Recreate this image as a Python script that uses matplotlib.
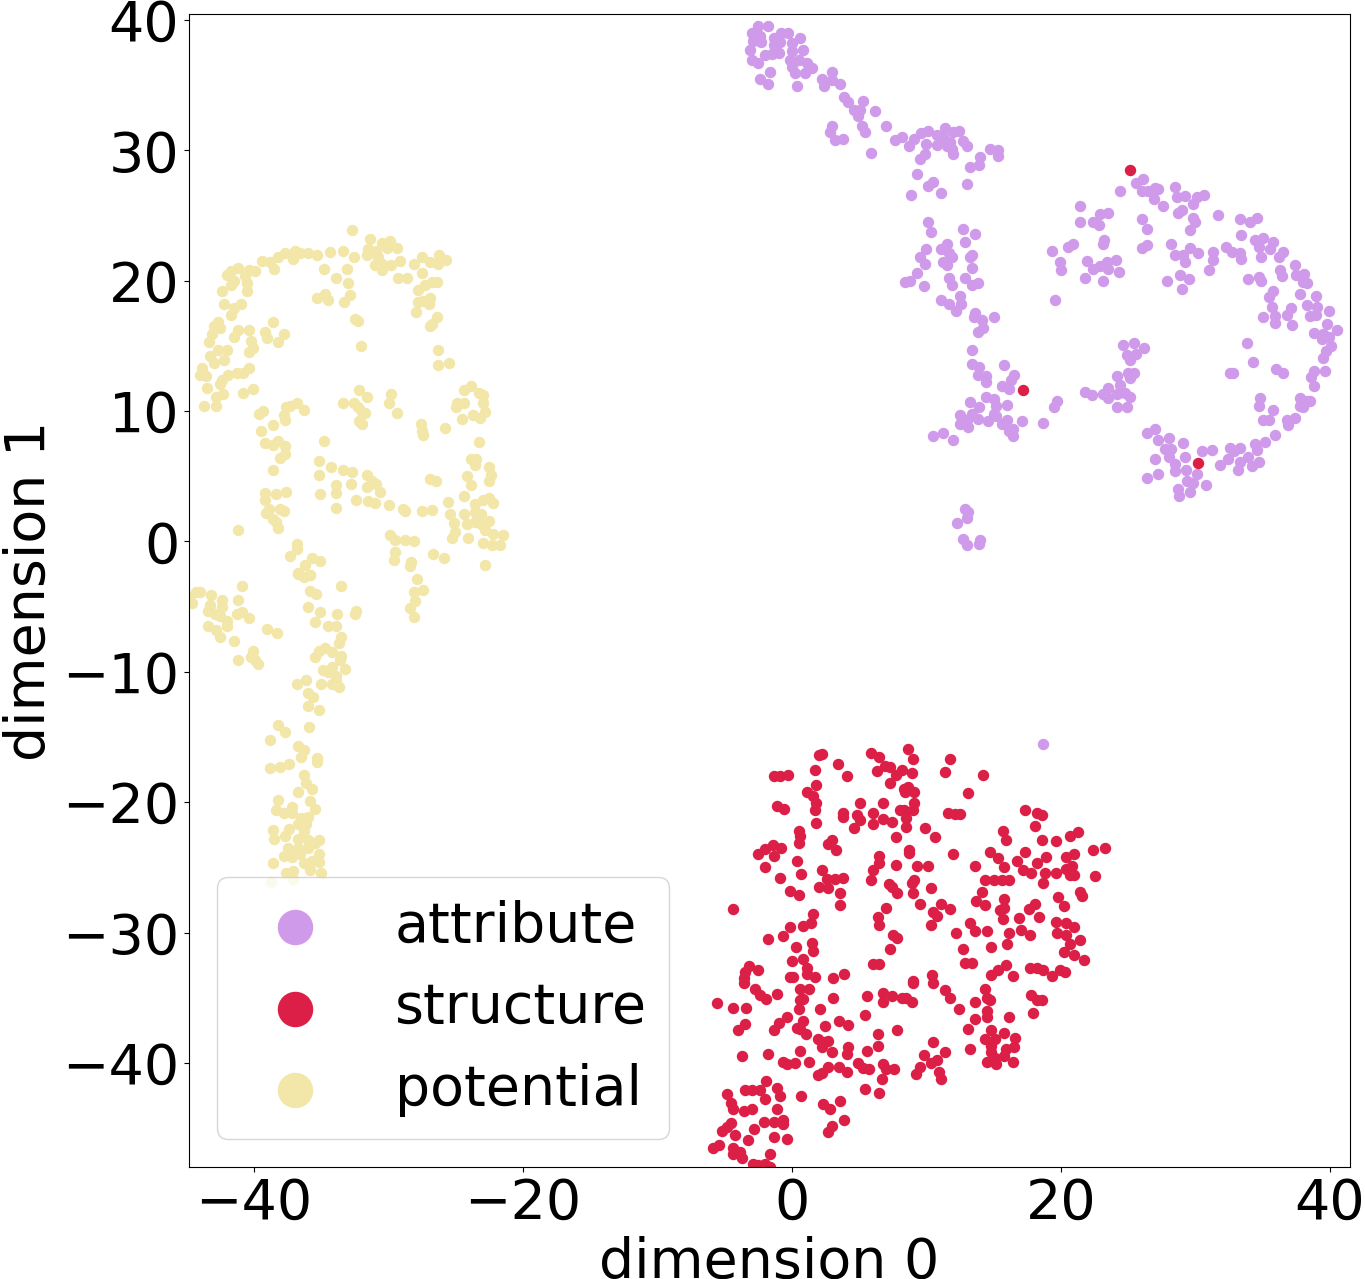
import numpy as np
import matplotlib
matplotlib.use('Agg')
import matplotlib.pyplot as plt

# t-SNE embedding points (dimension 0, dimension 1)
attribute_pts = [
    (-2.5, 39.5), (-1.8, 39.5), (-3.0, 39.0), (-2.4, 38.8), (-2.9, 38.4), (-2.3, 38.3), (-1.3, 38.6),
    (-0.8, 39.0), (-0.3, 39.0), (-0.9, 38.3), (-1.3, 38.1), (0.0, 38.2), (0.6, 38.6), (-3.1, 37.7),
    (-2.0, 37.3), (-1.5, 37.4), (-1.0, 37.5), (-3.0, 36.9), (-2.5, 36.7), (0.0, 37.6), (0.8, 37.7),
    (-0.15, 36.9), (0.5, 36.9), (1.1, 36.7), (1.5, 36.3), (0.0, 36.4), (0.2, 35.9), (1.0, 35.9),
    (-1.6, 36.0), (-2.4, 35.5), (-1.8, 35.1), (0.35, 34.9), (2.2, 35.5), (2.95, 36.0), (2.95, 35.4),
    (3.6, 35.1), (2.35, 34.9), (3.9, 34.1), (4.2, 33.7), (5.3, 33.8), (4.6, 33.1), (5.05, 33.1),
    (4.9, 32.6), (6.2, 33.0), (5.2, 31.9), (5.4, 31.4), (2.95, 31.9), (2.8, 31.4), (3.2, 30.8),
    (3.8, 30.9), (5.9, 29.8), (7.0, 31.85), (7.66, 30.8), (8.2, 31.0), (8.7, 30.3), (9.1, 30.9),
    (9.6, 31.3), (10.1, 31.5), (10.0, 30.5), (10.76, 31.2), (10.76, 30.4), (11.4, 31.7), (11.25, 31.0),
    (11.75, 30.65), (12.0, 31.4), (12.4, 31.5), (12.75, 30.7), (11.9, 30.1), (11.5, 30.3), (12.0, 29.75),
    (13.0, 30.3), (14.0, 29.5), (14.7, 30.1), (15.3, 30.0), (15.3, 29.6), (13.9, 28.9), (13.2, 28.7),
    (9.9, 29.7), (9.5, 29.3), (9.3, 28.2), (10.5, 27.6), (10.1, 27.25), (11.1, 26.7), (8.85, 26.6),
    (13.0, 27.45),
    (10.1, 24.5), (10.3, 23.7), (12.7, 24.0), (13.6, 23.6), (12.9, 23.0), (11.5, 22.8), (11.1, 22.4),
    (10.0, 22.4), (11.7, 22.1), (11.9, 21.8), (9.5, 21.8), (9.9, 21.3), (11.2, 21.4), (11.5, 21.2),
    (13.35, 21.95), (13.2, 21.8), (13.4, 21.0), (9.3, 20.6), (8.4, 19.9), (8.8, 20.0), (9.8, 19.6),
    (11.7, 20.2), (11.9, 19.7), (12.9, 20.2), (13.4, 19.65), (13.85, 19.8), (12.5, 18.8), (12.6, 18.2),
    (11.1, 18.5), (11.7, 18.2), (12.2, 17.7), (13.6, 17.5), (13.5, 17.2), (14.1, 17.0), (15.0, 17.2),
    (14.2, 16.4), (13.8, 16.1), (13.4, 14.7), (13.35, 13.6), (13.9, 13.4), (13.8, 12.8), (14.4, 12.7),
    (14.4, 12.2), (15.8, 13.5), (16.5, 12.8), (16.3, 12.4), (15.6, 11.9), (16.1, 11.7), (14.4, 11.1),
    (15.0, 10.9), (15.2, 10.4), (16.0, 10.5), (13.2, 10.7), (13.9, 10.3), (12.5, 9.7), (13.35, 9.8),
    (15.0, 9.8), (15.2, 9.6), (13.0, 9.3), (13.85, 9.4), (12.5, 9.0), (13.1, 8.8), (14.6, 9.2),
    (15.6, 9.0), (15.96, 9.3), (16.1, 8.5), (16.45, 8.65), (16.45, 8.1), (17.1, 9.2), (10.5, 8.1),
    (11.2, 8.3), (12.0, 7.75), (12.9, 2.5), (13.1, 2.25), (13.0, 1.8), (12.3, 1.4), (12.7, 0.2),
    (13.0, -0.3), (14.0, 0.1), (13.9, -0.2),
    (24.4, 26.9), (25.6, 27.5), (26.1, 27.8), (26.0, 26.9), (26.5, 26.9), (27.0, 27.1), (27.2, 27.0),
    (26.9, 26.3), (27.6, 25.7), (28.5, 27.2), (28.6, 26.4), (29.2, 26.5), (30.1, 26.4), (30.6, 26.6),
    (29.8, 25.9), (29.0, 25.45), (28.7, 25.2), (29.85, 24.8), (29.6, 23.9), (29.95, 24.5), (26.0, 24.7),
    (26.4, 24.0), (31.7, 25.0), (33.3, 24.7), (34.05, 24.5), (34.55, 24.8), (33.4, 23.5), (21.4, 25.7),
    (22.9, 25.1), (23.5, 25.2), (21.4, 24.5), (22.4, 24.5), (22.8, 24.3), (23.2, 23.1), (23.15, 22.85),
    (20.55, 22.6), (20.9, 22.85), (19.36, 22.26), (19.9, 21.4), (20.0, 20.8), (21.9, 21.5), (22.4, 20.9),
    (22.9, 21.1), (23.4, 21.4), (23.5, 20.9), (24.1, 21.6), (24.3, 20.7), (21.8, 20.2), (23.1, 20.0),
    (19.55, 18.55), (26.0, 22.5), (26.4, 22.7), (28.2, 22.8), (28.5, 22.0), (29.1, 21.95), (29.2, 21.4),
    (29.6, 22.5), (30.2, 22.15), (31.3, 22.2), (31.3, 21.6), (31.0, 20.85), (32.3, 22.6), (32.7, 22.2),
    (33.3, 22.1), (33.4, 21.7), (34.4, 23.1), (35.0, 23.3), (34.7, 22.6), (35.75, 22.97), (35.55, 22.4),
    (36.2, 21.8), (36.5, 22.2), (34.9, 21.8), (27.9, 20.0), (28.85, 20.4), (29.5, 20.1), (29.0, 19.4),
    (33.9, 20.1), (34.7, 20.3), (34.9, 20.0), (36.3, 20.8), (36.45, 20.34), (37.4, 21.2), (37.5, 20.4),
    (38.1, 20.5), (38.0, 19.9), (38.3, 19.8), (35.8, 19.2), (35.5, 18.75), (35.7, 18.0), (35.05, 17.2),
    (35.9, 17.3), (35.9, 16.75), (37.1, 17.9), (36.8, 17.35), (37.15, 16.6), (37.8, 18.96), (38.96, 18.8),
    (38.3, 18.1), (39.06, 18.0), (38.5, 17.3), (38.96, 17.4), (39.9, 17.7), (39.75, 16.65), (40.55, 16.2),
    (38.8, 16.0), (39.5, 15.9), (39.9, 15.7), (39.4, 15.5), (40.1, 15.0), (39.7, 14.6), (39.46, 14.1),
    (33.8, 15.25), (34.3, 13.8), (36.0, 13.25), (36.5, 12.9), (32.6, 12.9), (32.8, 12.9), (38.8, 13.1),
    (39.6, 13.1), (38.6, 12.6), (38.8, 11.9), (34.8, 11.0), (34.75, 10.4), (35.8, 10.05), (35.05, 9.3),
    (35.5, 9.3), (36.8, 9.3), (36.9, 8.9), (37.4, 9.5), (35.9, 8.2), (35.2, 7.6), (37.8, 11.0),
    (38.3, 10.8), (38.5, 10.8), (38.0, 10.3), (37.8, 10.4), (34.4, 7.45), (34.55, 7.0), (33.9, 6.5),
    (33.3, 7.2), (32.6, 7.2), (32.9, 6.9), (32.45, 6.3), (33.3, 6.1), (33.2, 5.5), (34.2, 5.8),
    (34.7, 6.1), (31.2, 7.0), (31.8, 5.9), (30.5, 6.9), (30.1, 5.2), (30.8, 4.3), (29.35, 4.6),
    (29.8, 4.5), (29.6, 3.8), (28.7, 4.05), (28.75, 3.5), (29.2, 6.5), (28.5, 5.95), (28.5, 5.4),
    (29.3, 5.45), (29.1, 7.55), (28.0, 7.9), (28.2, 7.1), (27.7, 7.1), (27.2, 7.75), (27.0, 8.6),
    (26.4, 8.3), (28.0, 6.5), (27.0, 6.3), (27.2, 5.2), (26.4, 4.9), (24.6, 15.1), (25.4, 15.25),
    (26.2, 14.8), (24.9, 14.3), (25.6, 14.4), (25.1, 13.9), (25.0, 12.9), (25.4, 12.9), (25.1, 12.5),
    (24.2, 12.7), (24.4, 12.0), (23.5, 11.8), (23.15, 11.3), (23.5, 11.0), (24.2, 11.3), (24.75, 11.4),
    (25.1, 11.1), (24.2, 10.3), (24.9, 10.3), (21.8, 11.5), (22.3, 11.2), (19.7, 10.8), (19.5, 10.3),
    (18.7, 9.1), (18.7, -15.5),
]

structure_pts = [
    (17.2, 11.6), (25.1, 28.5), (30.2, 6.0),
    (8.6, -15.9), (9.0, -16.7), (5.9, -16.2), (6.5, -16.5), (2.0, -16.4), (2.2, -16.3), (3.4, -17.1),
    (4.1, -18.0), (1.7, -17.5), (-1.3, -18.0), (-0.9, -18.0), (-0.3, -17.9), (6.3, -17.6), (6.9, -17.2),
    (7.3, -17.3), (8.2, -17.5), (7.7, -17.9), (8.9, -17.8), (7.3, -18.5), (8.3, -19.0), (8.6, -18.8),
    (9.1, -19.2), (8.4, -19.2), (11.75, -16.7), (11.4, -17.7), (14.2, -17.9), (13.1, -19.3), (1.1, -19.2),
    (1.8, -18.7), (1.6, -19.5), (1.8, -20.1), (1.7, -20.6), (-1.1, -20.3), (-0.6, -20.5), (5.05, -20.1),
    (6.8, -20.1), (3.8, -20.8), (3.8, -21.15), (4.8, -20.95), (5.05, -21.4), (6.0, -20.8), (6.8, -21.3),
    (7.4, -21.5), (6.0, -21.7), (4.6, -22.0), (8.0, -20.6), (8.3, -20.6), (9.0, -20.6), (9.1, -20.1),
    (8.5, -21.2), (8.5, -21.9), (1.8, -21.6), (0.5, -22.2), (0.6, -22.6), (0.5, -23.1), (2.7, -23.2),
    (2.95, -22.9), (3.3, -23.7), (-1.4, -23.3), (-0.8, -23.5), (-2.0, -23.6), (-2.5, -24.0), (-1.3, -24.1),
    (-2.0, -25.0), (-0.9, -25.8), (0.4, -24.5), (0.7, -25.5), (2.2, -25.2), (2.6, -25.9), (3.2, -25.9),
    (3.8, -25.8), (2.0, -26.5), (2.7, -26.6), (3.6, -27.0), (3.6, -27.85), (-0.15, -26.8), (0.5, -27.1),
    (9.9, -22.0), (10.6, -22.7), (11.6, -20.8), (12.1, -20.9), (12.5, -20.9), (17.3, -20.6), (18.2, -20.8),
    (18.6, -21.0), (18.1, -21.8), (18.6, -22.9), (19.6, -23.0), (15.7, -22.2), (15.9, -22.9), (20.7, -22.6),
    (21.3, -22.3), (22.4, -23.7), (23.3, -23.5), (22.5, -25.7), (14.7, -23.8), (15.3, -24.3), (16.7, -24.5),
    (17.3, -23.8), (18.9, -24.2), (18.2, -24.7), (15.8, -25.0), (17.2, -25.2), (17.8, -25.45), (18.8, -25.45),
    (19.6, -25.45), (20.4, -24.2), (21.0, -24.0), (20.8, -24.9), (20.4, -25.1), (20.7, -25.55), (21.0, -25.55),
    (18.7, -26.2), (14.35, -26.0), (15.0, -26.0), (15.6, -26.0), (16.1, -25.96), (14.1, -26.9), (13.7, -27.55),
    (14.35, -27.9), (15.8, -27.4), (15.5, -28.3), (15.8, -28.1), (15.7, -28.95), (16.9, -28.9), (17.6, -28.2),
    (18.1, -27.8), (18.4, -28.8), (19.8, -27.3), (20.2, -28.0), (21.4, -26.9), (21.6, -27.2), (19.6, -29.2),
    (20.4, -29.3), (21.0, -29.6), (19.7, -30.05), (20.4, -30.2), (21.4, -30.6), (20.7, -30.9), (20.2, -31.5),
    (21.0, -31.7), (21.7, -32.1), (16.1, -30.05), (17.0, -29.8), (17.7, -30.2), (16.0, -30.9), (14.8, -31.1),
    (14.5, -29.85), (13.2, -29.3), (13.6, -29.85), (12.2, -30.05), (12.7, -31.3), (12.9, -32.3), (13.4, -32.3),
    (17.7, -32.7), (18.2, -32.7), (18.7, -32.9), (19.3, -33.3), (19.9, -32.9), (20.3, -33.0), (14.8, -33.25),
    (15.3, -32.9), (15.9, -32.5), (16.4, -33.35), (13.6, -24.9), (12.0, -24.0), (8.7, -23.7), (8.7, -23.9),
    (9.3, -24.9), (10.1, -24.9), (7.7, -22.7), (6.5, -24.1), (6.5, -24.7), (6.0, -25.2), (5.9, -26.0),
    (7.2, -26.3), (7.4, -26.5), (7.8, -27.0), (7.7, -24.8), (8.9, -26.2), (9.1, -26.0), (9.0, -27.0),
    (10.3, -26.6), (9.5, -27.8), (11.1, -27.8), (10.5, -28.4), (10.8, -28.7), (11.75, -28.2), (10.3, -29.4),
    (7.0, -28.1), (6.4, -28.8), (6.5, -29.4), (7.5, -30.2), (7.8, -30.4), (7.3, -31.3), (6.05, -32.4),
    (6.5, -32.4), (-4.4, -28.2), (1.6, -28.6), (0.8, -29.5), (1.4, -29.3), (-0.15, -29.6), (-0.7, -30.3),
    (-1.8, -30.5), (0.3, -31.1), (1.5, -30.8), (1.6, -31.4), (0.0, -32.2), (0.8, -32.0), (1.1, -32.7),
    (1.1, -33.2), (-0.15, -33.4), (0.1, -33.4), (1.7, -33.4), (-2.5, -32.9), (-3.2, -32.6), (-3.5, -33.0),
    (-3.6, -33.5), (-3.6, -33.9), (-2.75, -34.3), (-2.4, -34.8), (-1.9, -35.1), (-1.1, -34.7), (0.6, -34.3),
    (1.3, -34.3), (0.6, -35.2), (0.8, -35.1), (0.5, -35.9), (2.1, -35.9), (3.07, -33.5), (3.9, -33.2),
    (3.07, -35.0), (5.55, -34.9), (6.8, -34.6), (7.4, -34.9), (8.15, -35.0), (8.5, -35.0), (8.9, -35.35),
    (6.8, -35.35), (9.0, -33.7), (9.0, -33.9), (10.4, -33.25), (10.5, -33.9), (11.4, -34.4), (11.75, -35.0),
    (12.4, -35.9), (14.35, -34.3), (14.5, -35.0), (14.7, -35.2), (13.6, -35.35), (14.5, -36.0), (14.5, -36.45),
    (16.1, -36.45), (17.8, -34.8), (18.2, -35.2), (18.6, -35.2), (17.9, -36.2), (13.6, -36.6), (13.1, -37.4),
    (13.2, -38.9), (14.8, -37.5), (15.1, -38.2), (15.8, -37.7), (14.35, -38.2), (16.6, -38.1), (16.5, -38.75),
    (15.9, -38.9), (14.8, -38.7), (14.8, -39.2), (14.5, -39.9), (15.2, -40.1), (15.8, -39.5), (16.4, -39.9),
    (15.1, -39.6), (-5.6, -35.4), (-4.4, -35.8), (-3.4, -35.8), (-3.5, -37.05), (-4.0, -37.5), (-1.0, -36.95),
    (-1.3, -37.5), (-0.4, -36.45), (0.8, -36.75), (0.35, -37.3), (0.6, -37.4), (1.04, -37.8), (2.45, -37.2),
    (3.5, -36.75), (4.2, -37.1), (7.8, -37.45), (6.4, -37.8), (5.4, -36.3), (1.9, -38.2), (2.4, -38.4),
    (2.7, -38.3), (2.2, -38.8), (2.95, -39.2), (4.2, -38.75), (4.06, -39.3), (5.6, -39.1), (6.4, -38.7),
    (0.6, -39.1), (1.3, -39.9), (-1.76, -39.3), (-3.7, -39.5), (-0.65, -39.9), (-0.35, -40.1), (0.2, -40.0),
    (4.9, -40.0), (5.3, -40.4), (5.75, -40.5), (6.8, -40.1), (7.0, -40.5), (6.7, -41.2), (7.6, -40.5),
    (2.7, -40.3), (3.5, -40.3), (4.06, -40.7), (2.2, -40.8), (1.9, -40.9), (9.8, -39.4), (10.3, -40.0),
    (10.75, -39.8), (10.5, -38.4), (11.4, -39.2), (9.5, -40.3), (9.2, -40.85), (10.9, -40.7), (11.1, -41.2),
    (5.4, -42.0), (6.5, -42.3), (-1.9, -41.4), (-1.1, -41.95), (-0.9, -42.5), (-3.5, -42.1), (-3.0, -42.1),
    (-2.4, -42.1), (-4.86, -42.4), (-4.56, -43.1), (-4.36, -43.5), (-3.6, -43.7), (-3.0, -43.5), (-2.0, -42.8),
    (-1.1, -43.5), (0.7, -42.5), (2.3, -43.15), (2.8, -43.5), (3.6, -42.9), (3.9, -44.4), (2.95, -44.8),
    (2.7, -45.3), (-1.3, -44.5), (-0.7, -44.4), (-0.65, -44.7), (-2.1, -44.5), (-2.8, -45.1), (-4.5, -44.6),
    (-4.86, -44.9), (-5.2, -45.2), (-4.2, -45.5), (-3.25, -45.9), (-1.34, -45.7), (-0.35, -45.8), (-5.85, -46.5),
    (-5.4, -46.3), (-4.36, -46.5), (-4.36, -47.0), (-3.9, -46.8), (-3.7, -47.3), (-1.6, -47.0), (-2.9, -47.75),
    (-2.5, -47.8), (-2.0, -47.75), (-1.6, -47.95),
]

potential_pts = [
    (-32.7, 23.9), (-31.4, 23.2), (-30.5, 22.9), (-29.9, 23.05), (-29.4, 22.5), (-31.5, 22.4), (-30.9, 22.3),
    (-30.1, 22.5), (-31.6, 22.0), (-30.8, 21.8), (-30.5, 21.3), (-31.0, 21.2), (-30.5, 20.8), (-29.8, 21.2),
    (-29.15, 21.5), (-32.6, 21.8), (-33.4, 22.3), (-34.35, 22.2), (-35.3, 22.0), (-36.0, 22.1), (-36.6, 22.1),
    (-36.95, 22.3), (-37.1, 21.7), (-37.7, 22.1), (-38.2, 21.8), (-38.5, 20.9), (-38.8, 21.4), (-39.4, 21.5),
    (-39.9, 20.75), (-40.4, 20.85), (-41.2, 21.0), (-41.7, 20.75), (-42.0, 20.4), (-41.5, 20.0), (-41.7, 19.65),
    (-40.7, 20.35), (-40.5, 19.8), (-40.5, 19.2), (-42.4, 19.2), (-42.2, 18.2), (-41.5, 17.9), (-41.7, 17.35),
    (-41.0, 18.2), (-34.8, 20.9), (-33.1, 20.9), (-33.9, 20.2), (-33.0, 19.8), (-35.3, 18.7), (-34.7, 19.0),
    (-34.5, 18.5), (-33.3, 18.4), (-32.9, 18.9), (-32.5, 17.05), (-32.3, 16.9), (-32.05, 15.0), (-29.3, 20.2),
    (-28.65, 20.2), (-28.1, 21.3), (-27.5, 21.8), (-27.5, 20.6), (-26.9, 21.4), (-26.25, 22.0), (-25.75, 21.6),
    (-26.3, 21.3), (-27.8, 19.3), (-27.3, 19.7), (-26.8, 19.9), (-26.4, 19.9), (-27.8, 18.4), (-27.4, 18.45),
    (-26.9, 18.7), (-27.0, 18.2), (-27.95, 17.6), (-26.4, 17.2), (-26.8, 16.7), (-26.9, 16.5), (-26.3, 14.7),
    (-26.3, 13.5), (-25.5, 13.7), (-42.65, 16.8), (-43.0, 16.5), (-42.5, 16.4), (-43.1, 15.9), (-41.2, 16.2),
    (-40.4, 16.2), (-41.5, 15.7), (-40.2, 15.4), (-40.05, 14.85), (-40.4, 14.5), (-43.35, 15.3), (-42.7, 14.7),
    (-43.3, 14.2), (-43.0, 13.7), (-42.0, 14.7), (-42.2, 13.95), (-43.9, 13.3), (-44.0, 12.8), (-43.6, 12.7),
    (-42.4, 12.35), (-42.5, 12.05), (-41.9, 12.8), (-41.3, 12.9), (-40.8, 12.9), (-40.4, 13.3), (-43.5, 11.8),
    (-42.8, 11.1), (-42.3, 11.3), (-40.8, 11.4), (-40.05, 11.7), (-43.7, 10.4), (-42.8, 10.4), (-38.6, 16.8),
    (-39.2, 16.1), (-39.0, 15.6), (-37.8, 15.9), (-38.2, 15.3), (-24.4, 11.6), (-23.9, 11.9), (-23.3, 11.4),
    (-22.95, 11.2), (-24.9, 10.6), (-24.4, 10.6), (-23.0, 10.6), (-25.0, 10.3), (-22.8, 9.9), (-23.7, 9.7),
    (-23.2, 9.5), (-24.5, 9.4), (-23.3, 7.6), (-23.9, 6.35), (-23.5, 6.35), (-23.6, 5.85), (-22.5, 5.7),
    (-22.4, 5.1), (-22.5, 4.6), (-24.2, 5.0), (-23.9, 4.3), (-24.4, 3.5), (-23.6, 2.9), (-23.0, 3.15),
    (-22.5, 3.35), (-22.2, 2.95), (-23.6, 2.25), (-23.1, 2.1), (-25.6, 3.0), (-25.4, 2.1), (-24.4, 2.1),
    (-25.1, 1.4), (-24.2, 1.3), (-23.6, 1.5), (-23.1, 1.3), (-22.5, 1.6), (-22.8, 0.85), (-22.2, 0.6),
    (-21.5, 0.5), (-25.05, 0.7), (-25.3, 0.3), (-24.1, 0.3), (-22.95, -0.1), (-22.3, -0.3), (-21.7, -0.3),
    (-22.8, -1.8), (-32.2, 11.6), (-31.6, 11.1), (-33.4, 10.6), (-32.6, 10.6), (-32.3, 10.3), (-32.0, 9.9),
    (-31.75, 9.85), (-32.2, 9.2), (-32.0, 9.0), (-29.8, 11.3), (-30.0, 10.6), (-29.4, 9.85), (-27.6, 9.0),
    (-27.5, 8.5), (-27.4, 8.2), (-25.8, 8.7), (-39.6, 9.8), (-39.3, 10.0), (-37.8, 9.7), (-37.7, 9.3),
    (-37.3, 10.4), (-36.8, 10.6), (-37.6, 10.3), (-36.3, 10.1), (-39.5, 8.5), (-38.6, 8.9), (-39.2, 7.55),
    (-38.6, 7.4), (-38.2, 7.7), (-37.7, 7.3), (-37.7, 6.7), (-38.1, 6.4), (-38.6, 5.5), (-34.8, 7.7),
    (-35.2, 6.2), (-35.2, 5.1), (-34.3, 5.7), (-33.4, 5.5), (-32.7, 5.3), (-31.6, 5.1), (-33.9, 4.35),
    (-32.8, 4.4), (-33.9, 3.7), (-33.9, 2.6), (-35.1, 3.6), (-32.4, 3.2), (-31.6, 4.2), (-31.25, 4.6),
    (-30.9, 4.4), (-30.6, 3.8), (-31.5, 3.1), (-31.0, 2.95), (-30.0, 2.8), (-28.9, 2.5), (-28.8, 2.3),
    (-27.5, 2.3), (-26.8, 2.4), (-26.9, 4.8), (-26.5, 4.6), (-39.2, 3.7), (-38.4, 3.65), (-37.6, 3.8),
    (-39.2, 3.2), (-38.9, 2.5), (-39.1, 2.2), (-38.1, 2.5), (-37.8, 2.3), (-38.6, 1.75), (-38.4, 1.5),
    (-38.2, 1.0), (-41.2, 0.9), (-36.8, -0.2), (-36.8, -0.6), (-37.3, -1.15), (-35.7, -1.25), (-35.1, -1.5),
    (-36.2, -1.8), (-36.7, -2.4), (-35.8, -2.6), (-29.9, 0.5), (-29.5, 0.1), (-28.8, 0.1), (-28.1, 0.0),
    (-29.5, -0.8), (-29.6, -1.4), (-28.3, -1.6), (-28.4, -1.9), (-26.7, -1.0), (-25.9, -1.25), (-27.9, -2.9),
    (-28.1, -3.9), (-27.4, -3.7), (-28.0, -4.6), (-28.4, -5.1), (-28.1, -5.8),
    (-44.3, -3.9), (-44.0, -3.9), (-44.8, -4.3), (-44.6, -4.7), (-43.2, -4.1), (-42.4, -4.5), (-41.2, -4.5),
    (-40.9, -3.4), (-43.3, -4.9), (-43.4, -5.3), (-42.9, -5.6), (-42.4, -5.05), (-42.5, -5.7), (-42.0, -6.1),
    (-42.0, -6.45), (-41.3, -5.6), (-40.9, -5.4), (-40.4, -5.9), (-43.4, -6.5), (-42.8, -6.8), (-42.5, -7.3),
    (-41.5, -7.6), (-41.2, -9.1), (-40.05, -8.4), (-40.2, -8.9), (-39.9, -9.1), (-39.7, -9.4), (-39.0, -6.7),
    (-38.3, -7.0), (-36.75, -2.5), (-36.3, -2.7), (-35.8, -2.6), (-35.8, -3.8), (-35.4, -4.0), (-36.0, -5.0),
    (-35.1, -5.4), (-35.5, -6.2), (-33.8, -5.6), (-33.5, -3.4), (-32.5, -5.6), (-32.4, -5.35), (-34.5, -6.5),
    (-33.9, -6.5), (-33.5, -7.3), (-33.7, -7.8), (-35.2, -8.4), (-34.7, -8.2), (-34.2, -8.5), (-35.5, -8.9),
    (-33.5, -8.75), (-33.6, -9.1), (-33.2, -9.8), (-34.85, -9.85), (-34.2, -9.6), (-34.5, -10.0), (-33.9, -10.3),
    (-35.0, -10.9), (-34.2, -10.9), (-33.9, -10.7), (-33.7, -11.2), (-36.8, -10.9), (-36.1, -10.6), (-36.0, -11.6),
    (-35.6, -11.95), (-36.0, -12.6), (-35.2, -12.9), (-38.2, -14.05), (-37.7, -14.6), (-38.8, -15.2), (-35.9, -14.2),
    (-36.7, -15.7), (-36.3, -16.0), (-36.5, -16.5), (-35.3, -16.6), (-35.3, -16.9), (-38.8, -17.4), (-38.1, -17.3),
    (-37.4, -17.1), (-36.3, -17.95), (-36.1, -18.55), (-35.7, -19.0), (-36.7, -19.2), (-38.2, -19.8), (-35.8, -19.9),
    (-35.5, -20.5), (-38.4, -20.6), (-37.8, -20.8), (-37.2, -20.4), (-37.2, -20.8), (-36.5, -21.2), (-36.7, -21.7),
    (-36.0, -21.1), (-36.1, -21.7), (-36.3, -22.2), (-38.6, -22.1), (-38.5, -22.8), (-37.7, -22.6), (-37.4, -22.05),
    (-36.75, -22.8), (-36.0, -22.9), (-35.5, -23.15), (-35.2, -22.9), (-37.5, -23.5), (-36.7, -23.5), (-36.0, -23.5),
    (-37.8, -24.1), (-37.2, -24.2), (-36.6, -24.0), (-36.3, -24.7), (-35.7, -24.5), (-35.2, -24.0), (-35.2, -24.6),
    (-38.6, -24.7), (-37.6, -25.4), (-37.1, -25.3), (-35.8, -25.2), (-35.0, -25.4), (-38.7, -26.1), (-37.1, -25.9),
]

labels = ['attribute', 'structure', 'potential']
colors = ['#d09aea', '#dc1f46', '#f2e7a8']

x_ticks = [-40, -20, 0, 20, 40]
y_ticks = [-40, -30, -20, -10, 0, 10, 20, 30, 40]

fig = plt.figure(figsize=(13.65, 12.79), dpi=100)
ax = fig.add_axes([0.1385, 0.0876, 0.8505, 0.9015])

for pts, lab, col in zip([attribute_pts, structure_pts, potential_pts], labels, colors):
    arr = np.array(pts)
    ax.scatter(arr[:, 0], arr[:, 1], s=52, c=col, label=lab)

ax.set_xlim(-44.83, 41.49)
ax.set_ylim(-47.98, 40.46)
ax.set_xticks(x_ticks)
ax.set_yticks(y_ticks)
ax.tick_params(labelsize=40)
ax.set_xlabel('dimension 0', fontsize=40)
ax.set_ylabel('dimension 1', fontsize=40)
ax.legend(loc='lower left', fontsize=40, markerscale=3.4)

fig.savefig('out.png', dpi=100)
